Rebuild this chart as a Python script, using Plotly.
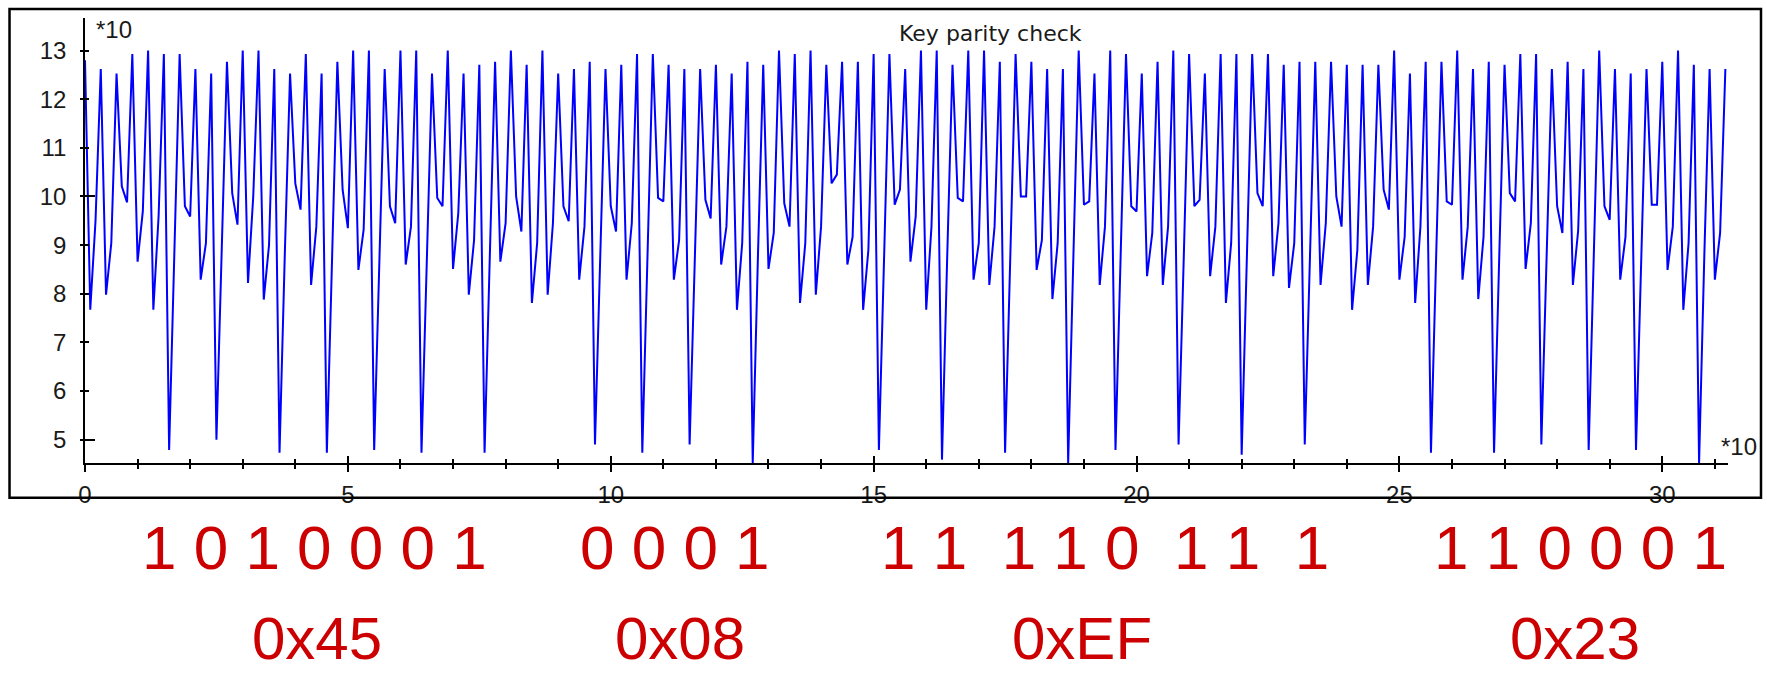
import plotly.graph_objects as go

# ---------------- data ----------------
values = [
    128, 76.7, 95, 126.2, 79.8, 90.4, 125.3, 102.1, 98.8, 129.3,
    86.6, 97, 130, 76.7, 96, 129.3, 47.9, 88, 129.3, 98,
    95.9, 126.2, 82.9, 90.4, 125.3, 50, 88, 127.7, 100.7, 94.2,
    130, 82.2, 100, 130, 78.8, 90, 126.2, 47.3, 88, 125.3,
    102.7, 97.3, 129.3, 81.8, 93.8, 125.3, 47.3, 88, 127.7, 101.4,
    93.5, 130, 84.9, 93.2, 130, 47.9, 88, 126.2, 98, 94.5,
    130, 86, 93.8, 130, 47.3, 88, 125.3, 99.7, 98, 130,
    85.1, 96.6, 125.3, 79.8, 91, 127.1, 47.3, 88, 127.7, 86.6,
    94.5, 130, 100, 92.8, 127.1, 78.1, 90.4, 130, 79.8, 94.5,
    125.3, 98, 94.9, 126.2, 82.9, 93.8, 127.7, 49, 88, 126.2,
    98, 92.8, 127.1, 82.9, 94.5, 129.3, 47.3, 88, 129.3, 99.7,
    99, 127.1, 82.9, 91, 126.2, 49, 88, 126.2, 99.3, 95.5,
    127.1, 86, 93.8, 125.3, 76.7, 90.4, 127.7, 45.2, 88, 127.1,
    85.1, 92.5, 130, 98.6, 93.8, 129.3, 78.1, 90.4, 130, 79.8,
    93.8, 127.1, 102.7, 104.5, 127.7, 86, 91.7, 127.7, 76.7, 89,
    129.3, 47.9, 88, 129.3, 98.3, 101.4, 126.2, 86.6, 95.9, 130,
    76.7, 93.8, 130, 45.9, 88, 127.1, 99.7, 99, 130, 82.9,
    90.4, 130, 81.8, 93.8, 127.7, 47.3, 88, 129.3, 100, 100,
    127.7, 84.9, 91, 126.2, 78.9, 90.4, 126.2, 45.2, 88, 130,
    98.3, 99, 125.3, 81.8, 93.8, 130, 47.9, 88, 129.3, 98,
    96.9, 125.3, 83.6, 92.5, 127.7, 81.8, 93.8, 130, 49, 88,
    129.3, 98, 99.3, 125.3, 83.6, 93.8, 129.3, 78.1, 90.4, 129.3,
    46.9, 88, 129.3, 100.7, 98, 129.3, 83.6, 94.5, 127.1, 81.2,
    90.4, 127.7, 49, 88, 127.7, 81.8, 94.5, 127.7, 100, 93.8,
    127.1, 76.7, 89, 127.1, 81.8, 93.8, 127.1, 101.4, 97.3, 130,
    82.9, 91.7, 125.3, 78.1, 93.8, 127.7, 47.3, 88, 127.7, 99,
    98.3, 130, 82.9, 93.8, 126.2, 78.9, 91.7, 127.7, 47.3, 88,
    127.1, 100.7, 99, 129.3, 85.1, 94.5, 129.3, 49, 88, 126.2,
    98, 92.5, 127.7, 81.8, 93, 126.2, 47.9, 88, 130, 98,
    95.2, 126.2, 82.9, 91.7, 125.3, 47.9, 88, 126.2, 98.3, 98.3,
    127.7, 84.9, 93.8, 130, 76.7, 90.4, 127.1, 45.2, 88, 126.2,
    82.9, 92.5, 126.2,
]
sample_index = list(range(len(values)))

x_major_ticks = [0, 50, 100, 150, 200, 250, 300]
x_major_labels = ["0", "5", "10", "15", "20", "25", "30"]
x_minor_ticks = list(range(0, 320, 10))
y_ticks = [50, 60, 70, 80, 90, 100, 110, 120, 130]
y_labels = ["5", "6", "7", "8", "9", "10", "11", "12", "13"]
y_major_ticks = [50, 100]

title_text = "Key parity check"
scale_label = "*10"
bit_groups = ["1 0 1 0 0 0 1", "0 0 0 1", "1 1  1 1 0  1 1  1", "1 1 0 0 0 1"]
hex_labels = ["0x45", "0x08", "0xEF", "0x23"]

# ---------------- layout geometry (pixels) ----------------
W, H = 1767, 675
PL, PR, PT, PB = 84.5, 1728.0, 18.0, 463.3
X_RANGE = [0, 312.5]
Y_RANGE = [45.2, 136.7]

def pxx(px):
    return (px - PL) / (PR - PL)

def pxy(py):
    return (PB - py) / (PB - PT)

bit_center_px = [314, 675, 1105, 1580]
hex_center_px = [317, 680, 1082, 1575]
ROW1_Y = 548
ROW2_BOTTOM = 674.5

AX_FONT = dict(family="Liberation Sans, Arial, sans-serif", size=24, color="#1a1a1a")
RED = "#cc0000"

fig = go.Figure()
fig.add_trace(go.Scatter(
    x=sample_index, y=values, mode="lines",
    line=dict(color="#0000ff", width=2), showlegend=False, hoverinfo="skip",
))
# helper empty traces so the overlay axes (inner tick halves) are drawn
fig.add_trace(go.Scatter(x=[], y=[], xaxis="x2", yaxis="y", showlegend=False))
fig.add_trace(go.Scatter(x=[], y=[], xaxis="x", yaxis="y2", showlegend=False))

fig.update_layout(
    width=W, height=H,
    margin=dict(l=PL, r=W - PR, t=PT, b=H - PB, pad=0),
    paper_bgcolor="white", plot_bgcolor="white",
    showlegend=False,
    xaxis=dict(
        range=X_RANGE, showgrid=False, zeroline=False,
        showline=True, linecolor="black", linewidth=1.5,
        tickmode="array", tickvals=x_major_ticks, ticktext=x_major_labels,
        ticks="outside", ticklen=7, tickwidth=1.5, tickcolor="black",
        minor=dict(tickvals=x_minor_ticks, ticks="outside", ticklen=4,
                   tickwidth=1.5, tickcolor="black"),
        tickfont=AX_FONT, ticklabelstandoff=2,
    ),
    xaxis2=dict(
        range=X_RANGE, overlaying="x", anchor="y", side="bottom",
        showgrid=False, zeroline=False, showline=False, showticklabels=False,
        tickmode="array", tickvals=x_major_ticks,
        ticks="inside", ticklen=7, tickwidth=1.5, tickcolor="black",
        minor=dict(tickvals=x_minor_ticks, ticks="inside", ticklen=4,
                   tickwidth=1.5, tickcolor="black"),
    ),
    yaxis=dict(
        range=Y_RANGE, showgrid=False, zeroline=False,
        showline=True, linecolor="black", linewidth=1.5,
        tickmode="array", tickvals=y_ticks, ticktext=y_labels,
        ticks="outside", ticklen=3, tickwidth=1.5, tickcolor="black",
        tickfont=AX_FONT, ticklabelstandoff=9,
    ),
    yaxis2=dict(
        range=Y_RANGE, overlaying="y", anchor="x", side="left",
        showgrid=False, zeroline=False, showline=False, showticklabels=False,
        tickmode="array", tickvals=y_major_ticks,
        ticks="inside", ticklen=10, tickwidth=1.5, tickcolor="black",
        minor=dict(tickvals=y_ticks, ticks="inside", ticklen=4,
                   tickwidth=1.5, tickcolor="black"),
    ),
)

# outer frame
fig.add_shape(type="rect", xref="paper", yref="paper",
              x0=pxx(9), x1=pxx(1761), y0=pxy(498), y1=pxy(9),
              line=dict(color="black", width=2.5), fillcolor="rgba(0,0,0,0)",
              layer="above")

ann = []
ann.append(dict(text=title_text, xref="paper", yref="paper", x=pxx(990), y=pxy(34),
                xanchor="center", yanchor="middle", showarrow=False,
                font=dict(family="DejaVu Sans, sans-serif", size=22, color="#1a1a1a")))
ann.append(dict(text=scale_label, xref="paper", yref="paper", x=pxx(94), y=pxy(30),
                xanchor="left", yanchor="middle", showarrow=False, font=AX_FONT))
ann.append(dict(text=scale_label, xref="paper", yref="paper", x=pxx(1719), y=pxy(447),
                xanchor="left", yanchor="middle", showarrow=False, font=AX_FONT))

RED_FONT = dict(family="Liberation Sans, Arial, sans-serif", size=62, color=RED)
HEX_FONT = dict(family="Liberation Sans, Arial, sans-serif", size=60, color=RED)
for group, px in zip(bit_groups, bit_center_px):
    ann.append(dict(text=group.replace(" ", "\u00a0"), xref="paper", yref="paper",
                    x=pxx(px), y=pxy(ROW1_Y), xanchor="center", yanchor="middle",
                    showarrow=False, font=RED_FONT))
for lab, px in zip(hex_labels, hex_center_px):
    ann.append(dict(text=lab, xref="paper", yref="paper", x=pxx(px), y=pxy(ROW2_BOTTOM),
                    xanchor="center", yanchor="bottom", showarrow=False, font=HEX_FONT))

fig.update_layout(annotations=ann)
fig.write_html("out.html", config={"displayModeBar": False},
               post_script="document.body.style.margin='0';")
